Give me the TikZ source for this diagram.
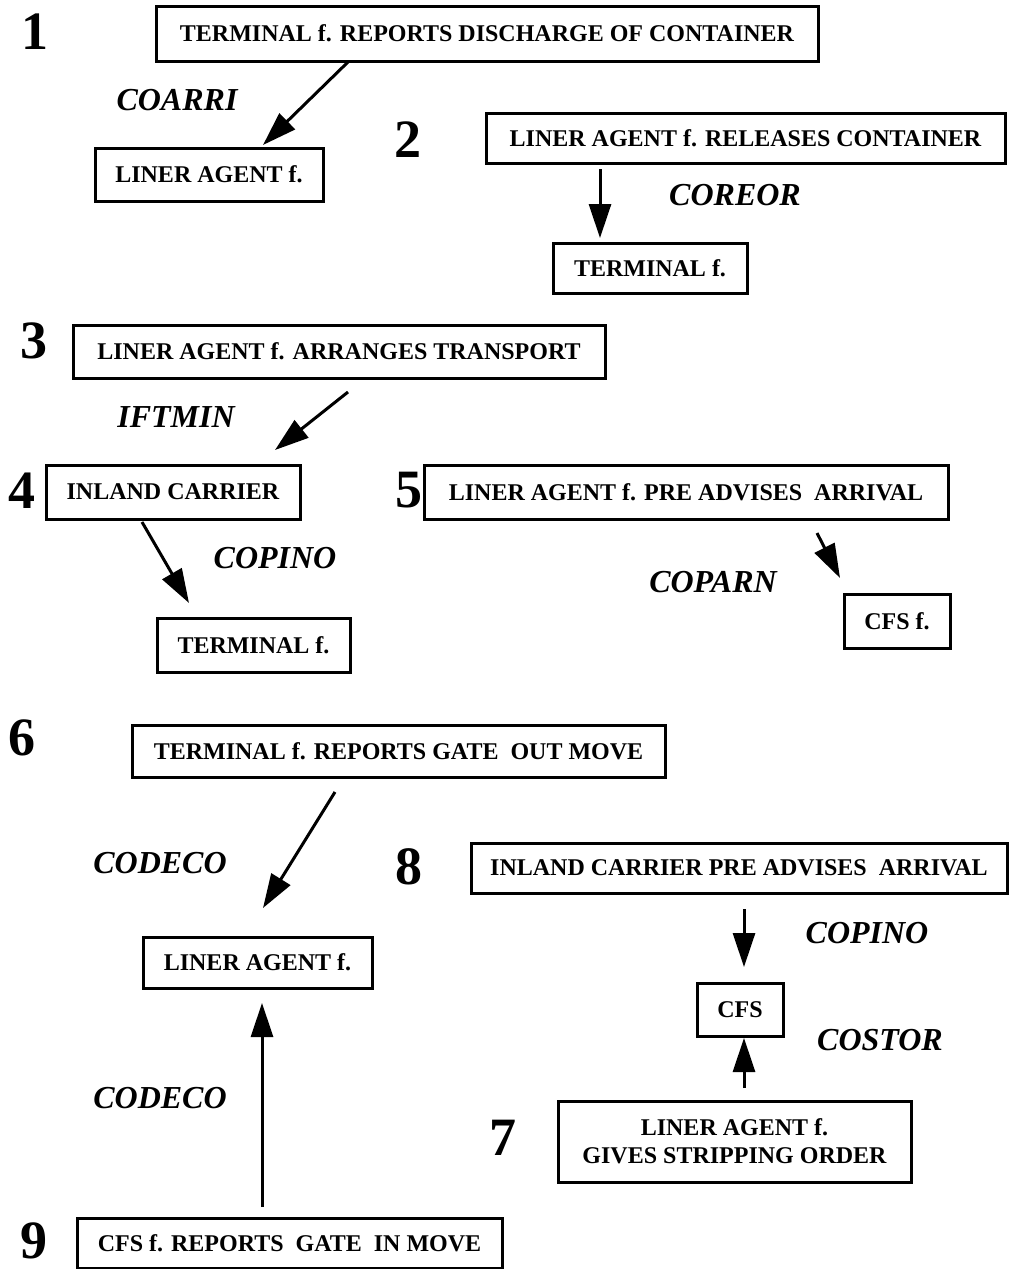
\documentclass[tikz,border=0pt]{standalone}
\usepackage{fontspec}
\setmainfont{Liberation Serif}
\usetikzlibrary{arrows.meta}
\begin{document}
\begin{tikzpicture}[x=1pt,y=-1pt,
 box/.style={draw, line width=3pt, inner sep=0pt, font=\fontsize{24}{28}\selectfont\bfseries, align=center},
 lbl/.style={inner sep=0pt, font=\fontsize{32}{36}\selectfont\bfseries\itshape},
 num/.style={inner sep=0pt, font=\fontsize{54}{60}\selectfont\bfseries},
 conn/.style={line width=3pt, -{Triangle[length=34pt,width=22pt]}}
]
\useasboundingbox (0,0) rectangle (1010,1269);

% boxes
\node[box, minimum width=662pt, minimum height=55pt] (b1) at (487,33.5) {TERMINAL f. REPORTS DISCHARGE OF CONTAINER};
\node[box, minimum width=228pt, minimum height=53pt] (la1) at (209,174.5) {LINER AGENT f.};
\node[box, minimum width=519pt, minimum height=50pt] (b2) at (745.5,138) {LINER AGENT f. RELEASES CONTAINER};
\node[box, minimum width=194pt, minimum height=50pt] (t2) at (650,268) {TERMINAL f.};
\node[box, minimum width=532pt, minimum height=53pt] (b3) at (339,351.5) {LINER AGENT f. ARRANGES TRANSPORT};
\node[box, minimum width=254pt, minimum height=54pt] (b4) at (173,492) {INLAND CARRIER};
\node[box, minimum width=524pt, minimum height=54pt] (b5) at (686,492) {LINER AGENT f. PRE ADVISES\ \ ARRIVAL};
\node[box, minimum width=193pt, minimum height=54pt] (t4) at (253.5,645) {TERMINAL f.};
\node[box, minimum width=106pt, minimum height=54pt] (cfsf) at (897,621) {CFS f.};
\node[box, minimum width=533pt, minimum height=52pt] (b6) at (398.5,751) {TERMINAL f. REPORTS GATE\ \ OUT MOVE};
\node[box, minimum width=229pt, minimum height=51pt] (la6) at (257.5,962.5) {LINER AGENT f.};
\node[box, minimum width=536pt, minimum height=50pt] (b8) at (739,868) {INLAND CARRIER PRE ADVISES\ \ ARRIVAL};
\node[box, minimum width=86pt, minimum height=53pt] (cfs) at (740,1009.5) {CFS};
\node[box, minimum width=353pt, minimum height=81pt] (b7) at (734.5,1141.5) {LINER AGENT f.\\GIVES STRIPPING ORDER};
\node[box, minimum width=425pt, minimum height=50pt] (b9) at (289.5,1243) {CFS f. REPORTS\ \ GATE\ \ IN MOVE};

% labels
\node[lbl] (l1) at (177,100) {COARRI};
\node[lbl] (l2) at (735,195) {COREOR};
\node[lbl] (l3) at (176,417) {IFTMIN};
\node[lbl] (l4) at (275,558) {COPINO};
\node[lbl] (l5) at (713,582) {COPARN};
\node[lbl] (l6) at (160,863) {CODECO};
\node[lbl] (l8) at (867,933) {COPINO};
\node[lbl] (l7) at (880,1040) {COSTOR};
\node[lbl] (l9) at (160,1098) {CODECO};

% numbers
\node[num] (n1) at (35,32) {1};
\node[num] (n2) at (408,140) {2};
\node[num] (n3) at (34,341) {3};
\node[num] (n4) at (22,491) {4};
\node[num] (n5) at (409,490) {5};
\node[num] (n6) at (22,738) {6};
\node[num] (n8) at (409,867) {8};
\node[num] (n7) at (503,1138) {7};
\node[num] (n9) at (34,1241) {9};

% connector end points
\coordinate (a1s) at (348,62);   \coordinate (a1e) at (263,145);
\coordinate (a2s) at (600,169);  \coordinate (a2e) at (600,238);
\coordinate (a3s) at (348,392);  \coordinate (a3e) at (275,450);
\coordinate (a4s) at (142,522);  \coordinate (a4e) at (189,603);
\coordinate (a5s) at (817,533);  \coordinate (a5e) at (840,578);
\coordinate (a6s) at (335,792);  \coordinate (a6e) at (263,908);
\coordinate (a9s) at (262,1207); \coordinate (a9e) at (262,1003);
\coordinate (a8s) at (744,909);  \coordinate (a8e) at (744,967);
\coordinate (a7s) at (744,1088); \coordinate (a7e) at (744,1038);

\draw[conn] (a1s) -- (a1e);
\draw[conn] (a2s) -- (a2e);
\draw[conn] (a3s) -- (a3e);
\draw[conn] (a4s) -- (a4e);
\draw[conn] (a5s) -- (a5e);
\draw[conn] (a6s) -- (a6e);
\draw[conn] (a9s) -- (a9e);
\draw[conn] (a8s) -- (a8e);
\draw[conn] (a7s) -- (a7e);
\end{tikzpicture}
\end{document}
